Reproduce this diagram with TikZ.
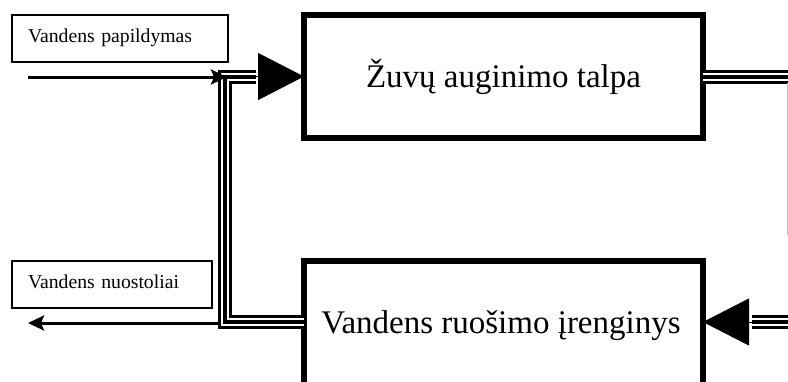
\documentclass[tikz,border=0pt]{standalone}
\usepackage{fontspec}
\setmainfont{Liberation Serif}
\usetikzlibrary{arrows.meta}
\begin{document}
\begin{tikzpicture}[x=1pt,y=-1pt,
  box/.style={draw, line width=5.5pt, outer sep=0pt, inner sep=0pt},
  bigtext/.style={font=\fontsize{33}{38}\selectfont},
  lbl/.style={draw, line width=1.6pt, outer sep=0pt, inner xsep=16pt, inner ysep=0pt,
    minimum height=47pt, align=left, text height=14pt, text depth=6.5pt,
    font=\fontsize{19.7}{22}\selectfont},
  triple/.style={line width=14pt, line join=miter,
    postaction={draw=white, line width=8pt, line join=miter},
    postaction={draw=black, line width=4pt, line join=miter}},
  feed/.style={line width=3pt, -{Stealth[length=16pt,width=15pt,inset=3pt]}},
  bigtip/.style={line width=1pt, -{Triangle[length=46pt,width=47pt]}}
]
\useasboundingbox (0,0) rectangle (788,381);
\clip (0,0) rectangle (788,381);

% boxes
\node[box, bigtext, minimum width=399pt, minimum height=123pt, anchor=north west]
  (tank) at (304,15) {Žuvų auginimo talpa};
\node[box, minimum width=399pt, minimum height=160pt, anchor=north west]
  (prep) at (304,261) {};
\node[bigtext, anchor=base] (preptxt) at (501,333) {Vandens ruošimo įrenginys};

% labels
\node[lbl, text width=184pt, anchor=north west] (lin) at (12,15) {Vandens papildymas};
\node[lbl, text width=168pt, anchor=north west] (lout) at (12,261) {Vandens nuostoliai};

% coordinates
\coordinate (pin) at (304,322);
\coordinate (jB) at (225,322);
\coordinate (jT) at (225,76.5);
\coordinate (aL) at (256,76.5);
\coordinate (eTR) at (788,76.5);
\coordinate (aR) at (752,322);
\coordinate (eBR) at (788,322);
\coordinate (fs) at (28,77);
\coordinate (fe) at (227,77);
\coordinate (ls) at (218,323);
\coordinate (le) at (28,323);

% return loop into tank
\draw[triple] (pin) -- (jB) -- (jT) -- (aL);
\draw[bigtip] (aL) -- (tank.west);

% tank outlet
\draw[triple] (tank.east) -- (eTR);

% inlet to preparation unit
\draw[triple] (eBR) -- (aR);
\draw[bigtip] (aR) -- (aR -| prep.east);

% make-up and losses
\draw[feed] (fs) -- (fe);
\draw[feed] (ls) -- (le);

% faint right edge line
\draw[black!25, line width=1pt] (787,83) -- (787,235);
\end{tikzpicture}
\end{document}
